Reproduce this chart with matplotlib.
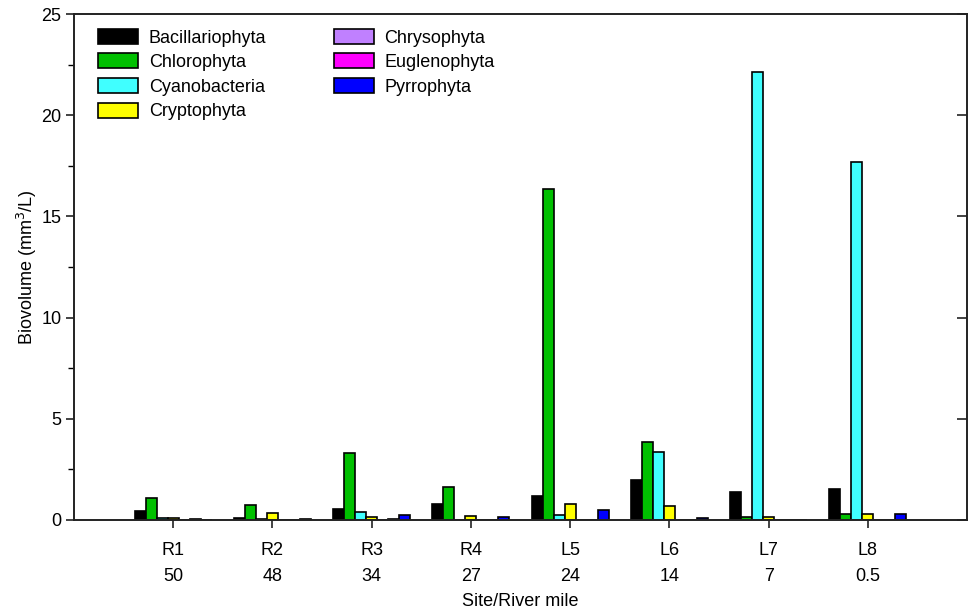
import matplotlib
matplotlib.use('Agg')
import matplotlib.pyplot as plt
import numpy as np

plt.rcParams['font.family'] = ['Liberation Sans', 'DejaVu Sans']

sites = ['R1', 'R2', 'R3', 'R4', 'L5', 'L6', 'L7', 'L8']
river_mile = ['50', '48', '34', '27', '24', '14', '7', '0.5']

groups = ['Bacillariophyta', 'Chlorophyta', 'Cyanobacteria', 'Cryptophyta',
          'Chrysophyta', 'Euglenophyta', 'Pyrrophyta']
colors = ['#000000', '#00c000', '#40ffff', '#ffff00', '#c080ff', '#ff00ff', '#0000ff']

# biovolume per site, mm3/L
bacillariophyta = [0.45, 0.08, 0.53, 0.78, 1.20, 1.98, 1.37, 1.52]
chlorophyta     = [1.07, 0.75, 3.30, 1.65, 16.35, 3.84, 0.17, 0.28]
cyanobacteria   = [0.10, 0.05, 0.41, 0.02, 0.24, 3.38, 22.15, 17.68]
cryptophyta     = [0.12, 0.35, 0.16, 0.20, 0.78, 0.69, 0.13, 0.31]
chrysophyta     = [0.00, 0.00, 0.00, 0.00, 0.00, 0.02, 0.00, 0.00]
euglenophyta    = [0.05, 0.00, 0.07, 0.00, 0.00, 0.00, 0.00, 0.00]
pyrrophyta      = [0.00, 0.04, 0.25, 0.16, 0.48, 0.08, 0.00, 0.30]

data = [bacillariophyta, chlorophyta, cyanobacteria, cryptophyta,
        chrysophyta, euglenophyta, pyrrophyta]

fs = 13

fig = plt.figure(figsize=(9.69, 6.11), dpi=100)
ax = fig.add_axes([0.0764, 0.149, 0.9216, 0.828])

x = np.arange(len(sites))
w = 0.111
for i, (vals, c, name) in enumerate(zip(data, colors, groups)):
    ax.bar(x + (i - 3) * w, vals, w, color=c, edgecolor='black',
           linewidth=1.2, label=name)

ax.set_xlim(-1, 8)
ax.set_ylim(0, 25)
ax.set_yticks([0, 5, 10, 15, 20, 25])
ax.set_yticks(np.arange(2.5, 25, 5), minor=True)
ax.set_xticks(x)
ax.set_xticklabels([s + '\n' + m for s, m in zip(sites, river_mile)],
                   linespacing=1.65)

for sp in ax.spines.values():
    sp.set_linewidth(1.4)
    sp.set_color('#222222')

ax.tick_params(axis='both', labelsize=fs, width=1.2, color='#222222')
ax.tick_params(axis='y', which='major', direction='out', length=6, left=True, right=False, pad=3)
ax.tick_params(axis='y', which='minor', direction='out', length=4, width=1.0)
ax.tick_params(axis='x', which='major', direction='out', length=6, pad=10)

# inward ticks along the right frame
ax2 = ax.twinx()
ax2.set_ylim(ax.get_ylim())
ax2.set_yticks([0, 5, 10, 15, 20, 25])
ax2.set_yticklabels([])
ax2.tick_params(axis='y', direction='in', length=7, width=1.2, color='#222222')
for sp in ax2.spines.values():
    sp.set_visible(False)

ax.set_ylabel('Biovolume (mm$^3$/L)', fontsize=fs)
ax.yaxis.set_label_coords(-0.039, 0.5)
ax.set_xlabel('Site/River mile', fontsize=fs, labelpad=6)

ax.legend(loc='upper left', bbox_to_anchor=(0.019, 0.985), ncol=2,
          frameon=False, fontsize=fs, handlelength=2.2, handleheight=0.9,
          labelspacing=0.38, columnspacing=3.75, borderaxespad=0,
          handletextpad=0.6)

fig.savefig('out.png', dpi=100, facecolor='white')
